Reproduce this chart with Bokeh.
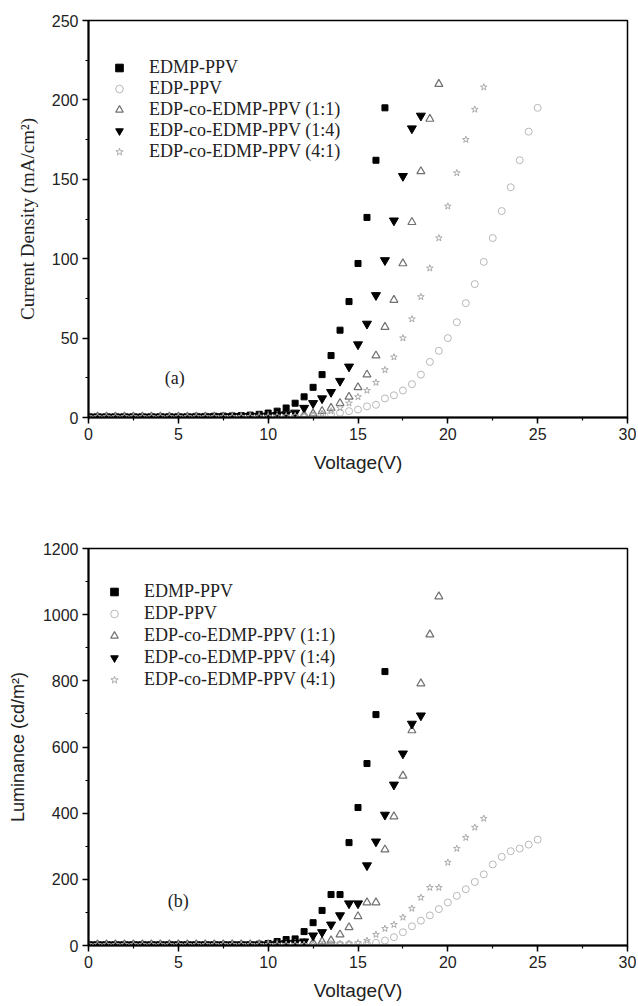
from bokeh.plotting import figure
from bokeh.layouts import column
from bokeh.models import Range1d, SingleIntervalTicker, Legend, LegendItem, Label
from bokeh.embed import file_html
from bokeh.resources import INLINE

# ---------------- data: panel (a) current density (mA/cm2) ----------------
V_EDMP = [0, 0.5, 1, 1.5, 2, 2.5, 3, 3.5, 4, 4.5, 5, 5.5, 6, 6.5, 7, 7.5, 8, 8.5, 9, 9.5,
          10, 10.5, 11, 11.5, 12, 12.5, 13, 13.5, 14, 14.5, 15, 15.5, 16, 16.5]
J_EDMP = [0.5, 0.5, 0.5, 0.5, 0.5, 0.5, 0.5, 0.5, 0.6, 0.6, 0.6, 0.6, 0.7, 0.7, 0.8, 0.9, 1.0, 1.2, 1.5, 2,
          2.8, 4, 6, 9, 13, 19, 27, 39, 55, 73, 97, 126, 162, 195]

V_EDP = [0, 0.5, 1, 1.5, 2, 2.5, 3, 3.5, 4, 4.5, 5, 5.5, 6, 6.5, 7, 7.5, 8, 8.5, 9, 9.5,
         10, 10.5, 11, 11.5, 12, 12.5, 13, 13.5, 14, 14.5, 15, 15.5, 16, 16.5, 17, 17.5, 18, 18.5, 19, 19.5,
         20, 20.5, 21, 21.5, 22, 22.5, 23, 23.5, 24, 24.5, 25]
J_EDP = [0.5, 0.5, 0.5, 0.5, 0.5, 0.5, 0.5, 0.5, 0.5, 0.5, 0.5, 0.5, 0.5, 0.5, 0.5, 0.5, 0.5, 0.5, 0.5, 0.5,
         0.5, 0.6, 0.7, 0.8, 0.9, 1, 1.5, 2, 3, 4, 5, 7, 8, 12, 14, 17, 21, 27, 35, 42,
         50, 60, 72, 84, 98, 113, 130, 145, 162, 180, 195]

V_11 = [0, 0.5, 1, 1.5, 2, 2.5, 3, 3.5, 4, 4.5, 5, 5.5, 6, 6.5, 7, 7.5, 8, 8.5, 9, 9.5,
        10, 10.5, 11, 11.5, 12, 12.5, 13, 13.5, 14, 14.5, 15, 15.5, 16, 16.5, 17, 17.5, 18, 18.5, 19, 19.5]
J_11 = [0.5, 0.5, 0.5, 0.5, 0.5, 0.5, 0.5, 0.5, 0.5, 0.5, 0.5, 0.5, 0.5, 0.5, 0.5, 0.5, 0.6, 0.6, 0.7, 0.7,
        0.8, 0.9, 1, 1.2, 1.5, 2.5, 4, 6, 9, 13, 19, 27, 39, 57, 74, 97, 123, 155, 188, 210]

V_14 = [0, 0.5, 1, 1.5, 2, 2.5, 3, 3.5, 4, 4.5, 5, 5.5, 6, 6.5, 7, 7.5, 8, 8.5, 9, 9.5,
        10, 10.5, 11, 11.5, 12, 12.5, 13, 13.5, 14, 14.5, 15, 15.5, 16, 16.5, 17, 17.5, 18, 18.5]
J_14 = [0.5, 0.5, 0.5, 0.5, 0.5, 0.5, 0.5, 0.5, 0.5, 0.5, 0.5, 0.5, 0.6, 0.6, 0.7, 0.7, 0.8, 0.9, 1, 1,
        1.2, 1.5, 2, 3, 6, 9, 12, 16, 23, 32, 46, 59, 77, 99, 124, 152, 182, 190]

V_41 = [0, 0.5, 1, 1.5, 2, 2.5, 3, 3.5, 4, 4.5, 5, 5.5, 6, 6.5, 7, 7.5, 8, 8.5, 9, 9.5,
        10, 10.5, 11, 11.5, 12, 12.5, 13, 13.5, 14, 14.5, 15, 15.5, 16, 16.5, 17, 17.5, 18, 18.5, 19, 19.5,
        20, 20.5, 21, 21.5, 22]
J_41 = [0.5, 0.5, 0.5, 0.5, 0.5, 0.5, 0.5, 0.5, 0.5, 0.5, 0.5, 0.5, 0.5, 0.5, 0.5, 0.5, 0.5, 0.6, 0.6, 0.7,
        0.7, 0.8, 0.9, 1, 1, 1.5, 2.5, 4, 6, 9, 13, 17, 22, 30, 38, 50, 62, 76, 94, 113,
        133, 154, 175, 194, 208]

# ---------------- data: panel (b) luminance (cd/m2) ----------------
L_EDMP = [3, 3, 3, 3, 3, 3, 3, 3, 3, 3, 3, 3, 3, 3, 3, 3, 3, 3, 3, 4,
          6, 12, 18, 20, 42, 69, 106, 154, 154, 311, 417, 550, 698, 828]
L_EDP = [3, 3, 3, 3, 3, 3, 3, 3, 3, 3, 3, 3, 3, 3, 3, 3, 3, 3, 3, 3,
         3, 3, 3, 3, 3, 3, 3, 3, 3, 3, 3, 5, 8, 15, 25, 40, 58, 75, 91, 110,
         130, 150, 170, 192, 215, 245, 268, 285, 293, 305, 320]
L_11 = [3, 3, 3, 3, 3, 3, 3, 3, 3, 3, 3, 3, 3, 3, 3, 3, 3, 3, 3, 3,
        3, 3, 3, 5, 7, 8, 12, 15, 33, 55, 88, 130, 130, 290, 390, 513, 650, 792, 940, 1055]
L_14 = [3, 3, 3, 3, 3, 3, 3, 3, 3, 3, 3, 3, 3, 3, 3, 3, 3, 3, 3, 3,
        3, 5, 7, 8, 12, 30, 40, 63, 91, 127, 127, 242, 314, 395, 486, 580, 670, 695]
L_41 = [3, 3, 3, 3, 3, 3, 3, 3, 3, 3, 3, 3, 3, 3, 3, 3, 3, 3, 3, 3,
        3, 3, 3, 3, 3, 3, 3, 4, 5, 6, 8, 15, 33, 51, 63, 85, 112, 145, 175, 175,
        251, 293, 326, 357, 384]

NAMES = ["EDMP-PPV", "EDP-PPV", "EDP-co-EDMP-PPV (1:1)", "EDP-co-EDMP-PPV (1:4)", "EDP-co-EDMP-PPV (4:1)"]
X_TICK_STEP = 5

SANS = "Liberation Sans"
SERIF = "Liberation Serif"


def make_fig(height, top_border, bottom_border, y_end, y_step, ylab, ylab_font, ylab_standoff):
    p = figure(width=636, height=height, output_backend="svg", toolbar_location=None,
               x_range=Range1d(0, 30), y_range=Range1d(0, y_end),
               min_border_left=88, min_border_right=9, min_border_top=top_border,
               min_border_bottom=bottom_border)
    p.xgrid.visible = False
    p.ygrid.visible = False
    p.outline_line_color = "black"
    p.outline_line_width = 1.5
    p.background_fill_color = "white"
    p.border_fill_color = "white"
    p.xaxis.ticker = SingleIntervalTicker(interval=X_TICK_STEP, num_minor_ticks=2)
    p.yaxis.ticker = SingleIntervalTicker(interval=y_step, num_minor_ticks=2)
    for ax in (p.xaxis[0], p.yaxis[0]):
        ax.axis_line_width = 2
        ax.axis_line_color = "black"
        ax.major_tick_in = 0
        ax.major_tick_out = 6
        ax.minor_tick_in = 0
        ax.minor_tick_out = 3
        ax.major_tick_line_width = 1.5
        ax.minor_tick_line_width = 1.2
        ax.major_label_text_font = SANS
        ax.major_label_text_font_size = "16px"
        ax.major_label_text_color = "#222222"
        ax.major_label_standoff = 4
        ax.axis_label_text_font_style = "normal"
        ax.axis_label_text_color = "#222222"
    p.xaxis.axis_label = "Voltage(V)"
    p.xaxis.axis_label_text_font = SANS
    p.xaxis.axis_label_text_font_size = "19px"
    p.xaxis.axis_label_standoff = 9
    p.yaxis.axis_label = ylab
    p.yaxis.axis_label_text_font = ylab_font
    p.yaxis.axis_label_text_font_size = "19px" if ylab_font == SERIF else "18px"
    p.yaxis.axis_label_standoff = ylab_standoff
    return p


def add_series(p, vals, loc, spacing, letter, letter_pos):
    series = [
        (V_EDMP, vals[0], dict(marker="square", size=6, fill_color="black", line_color="black")),
        (V_EDP, vals[1], dict(marker="circle", size=7, fill_color=None, line_color="#b8b8b8", line_width=1)),
        (V_11, vals[2], dict(marker="triangle", size=8, fill_color=None, line_color="#707070", line_width=1.2)),
        (V_14, vals[3], dict(marker="inverted_triangle", size=9, fill_color="black", line_color="black")),
        (V_41, vals[4], dict(marker="star", size=7, fill_color=None, line_color="#ababab", line_width=1)),
    ]
    items = []
    for (xs, ys, style), name in zip(series, NAMES):
        r = p.scatter(xs, ys, **style)
        items.append(LegendItem(label=name, renderers=[r]))
    leg = Legend(items=items, location=loc, margin=0, padding=0, spacing=spacing,
                 glyph_width=20, glyph_height=19, label_height=19, label_standoff=20,
                 label_text_font=SERIF, label_text_font_size="18px", label_text_color="#222222",
                 border_line_color=None, background_fill_alpha=0)
    p.add_layout(leg)
    p.add_layout(Label(x=letter_pos[0], y=letter_pos[1], text=letter, text_font=SERIF,
                       text_font_size="18px", text_align="center", text_baseline="middle",
                       text_color="#222222"))


p1 = make_fig(477, 20, 60, 250, 50, "Current Density (mA/cm²)", SERIF, 11)
add_series(p1, [J_EDMP, J_EDP, J_11, J_14, J_41], (21, 255), 0, "(a)", (4.8, 25))

p2 = make_fig(527, 71, 59, 1200, 200, "Luminance (cd/m²)", SANS, 12)
add_series(p2, [L_EDMP, L_EDP, L_11, L_14, L_41], (16, 255), 1, "(b)", (5.0, 136))

layout = column(p1, p2, spacing=0)
open("out.html", "w").write(file_html(layout, INLINE))
